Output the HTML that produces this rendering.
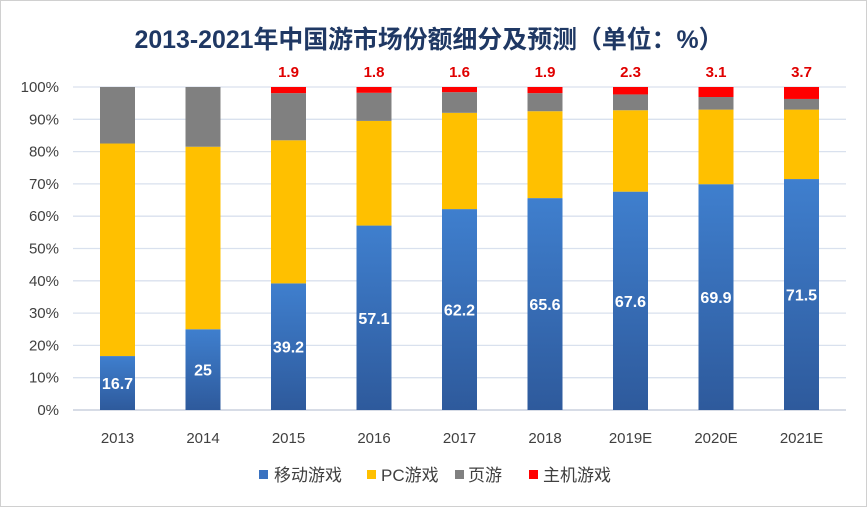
<!DOCTYPE html>
<html><head><meta charset="utf-8"><style>
body{margin:0;background:#fff;}
#c{position:relative;width:867px;height:507px;border:1px solid #d0d0d0;box-sizing:border-box;background:#fff;font-family:"Liberation Sans","Noto Sans CJK SC",sans-serif;}
svg text{font-family:"Liberation Sans","Noto Sans CJK SC",sans-serif;}
</style></head><body>
<div id="c">
<svg id="s" width="867" height="507">
<defs>
<linearGradient id="gb" x1="0" y1="0" x2="0" y2="1"><stop offset="0" stop-color="#3f7fce"/><stop offset="1" stop-color="#2e5a9c"/></linearGradient>
</defs>
<text x="428" y="47" text-anchor="middle" font-size="25" font-weight="bold" fill="#1f3864" textLength="589" lengthAdjust="spacingAndGlyphs">2013-2021年中国游市场份额细分及预测（单位：%）</text>
<g id="grid"></g><g id="bars"></g><g id="labels"></g>
<g font-size="17" fill="#404040">
<rect x="258" y="469" width="9" height="9" fill="#3a72c0"/>
<text x="273" y="480">移动游戏</text>
<rect x="366" y="469" width="9" height="9" fill="#ffc000"/>
<text x="380" y="480">PC游戏</text>
<rect x="454" y="469" width="9" height="9" fill="#808080"/>
<text x="467" y="480">页游</text>
<rect x="528" y="469" width="9" height="9" fill="#ff0000"/>
<text x="542" y="480">主机游戏</text>
</g>
</svg></div>
<script>
const categories=["2013","2014","2015","2016","2017","2018","2019E","2020E","2021E"];
const mobile=[16.7,25,39.2,57.1,62.2,65.6,67.6,69.9,71.5];
const pc=[65.8,56.5,44.3,32.4,29.8,26.9,25.2,23.1,21.5];
const web=[17.5,18.5,14.6,8.7,6.4,5.6,4.9,3.9,3.3];
const consoleG=[0,0,1.9,1.8,1.6,1.9,2.3,3.1,3.7];
const yTicks=[0,10,20,30,40,50,60,70,80,90,100];
const NS="http://www.w3.org/2000/svg";
const y0=409,y100=86,x0=116.5,dx=85.5,bw=35;
const y=v=>y0-(y0-y100)*v/100;
const x=i=>x0+dx*i;
function mk(t,a,p){const e=document.createElementNS(NS,t);for(const k in a)e.setAttribute(k,a[k]);p.appendChild(e);return e;}
const grid=document.getElementById('grid'),bars=document.getElementById('bars'),labels=document.getElementById('labels');
yTicks.forEach(t=>{
 const l=mk('line',{x1:72,x2:845,y1:y(t),y2:y(t),stroke:t===0?'#bfc8d8':'#d9e1ee','stroke-width':1.3},grid);
 
 
 const tx=mk('text',{x:58,y:y(t)+5,'text-anchor':'end','font-size':15,fill:'#404040'},grid);
 tx.textContent=t+'%';
 
 
});
const series=[[mobile,'url(#gb)','mobile'],[pc,'#ffc000','pc'],[web,'#808080','web'],[consoleG,'#ff0000','console']];
categories.forEach((c,i)=>{
 let acc=0;
 series.forEach(([arr,col,nm])=>{
  const v=arr[i];if(v<=0)return;
  const r=mk('rect',{x:x(i)-bw/2,y:y(acc+v),width:bw,height:y(acc)-y(acc+v),fill:col},bars);
  
  
  acc+=v;
 });
 const ml=mk('text',{x:x(i),y:y(mobile[i]/2)+6,'text-anchor':'middle','font-size':16,'font-weight':'bold',fill:'#fff'},labels);
 ml.textContent=mobile[i];
 
 
 if(consoleG[i]>0){
  const cl=mk('text',{x:x(i),y:76,'text-anchor':'middle','font-size':15,'font-weight':'bold',fill:'#e00000'},labels);
  cl.textContent=consoleG[i];
  
  
 }
 const xl=mk('text',{x:x(i),y:442,'text-anchor':'middle','font-size':15,fill:'#404040'},labels);
 xl.textContent=c;
 
 
});
</script>
</body></html>
